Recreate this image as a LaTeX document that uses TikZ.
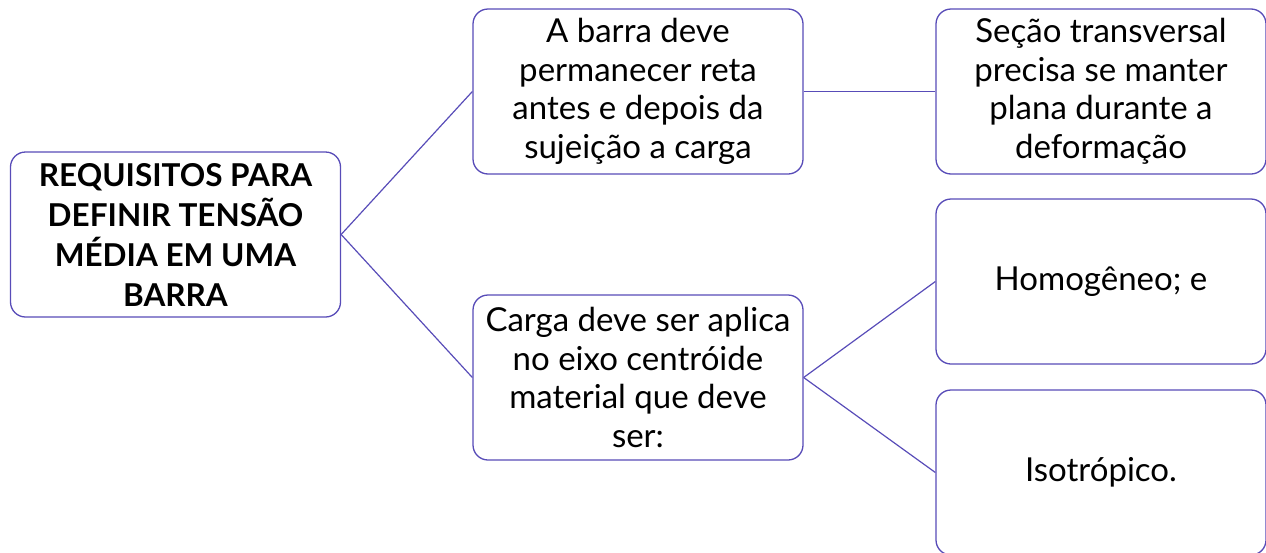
\documentclass[tikz,border=0pt]{standalone}
\usepackage{fontspec}
\setmainfont{Lato}
\definecolor{mapline}{RGB}{88,76,184}
\usetikzlibrary{positioning}

\tikzset{
  box/.style={draw=mapline, line width=1.3pt, rounded corners=15pt, fill=white,
    minimum width=330pt, minimum height=165pt, align=center, inner sep=2pt,
    font=\fontsize{33}{38.5}\selectfont},
  rootbox/.style={box, font=\fontsize{31.5}{40}\selectfont\bfseries},
  link/.style={draw=mapline, line width=1.2pt}
}

\begin{document}
\begin{tikzpicture}[x=1pt, y=-1pt]
  \useasboundingbox (0,0) rectangle (1266,552);

  %% Boxes
  \node[rootbox] (req)   at (175.5,234.5) {REQUISITOS PARA\\DEFINIR TENSÃO\\MÉDIA EM UMA\\BARRA};
  \node[box]     (reta)  at (638,91.5)    {A barra deve\\permanecer reta\\antes e depois da\\sujeição a carga};
  \node[box]     (carga) at (638,377.5)   {Carga deve ser aplica\\no eixo centróide\\material que deve\\ser:};
  \node[box]     (secao) at (1101,91.5)   {Seção transversal\\precisa se manter\\plana durante a\\deformação};
  \node[box]     (homog) at (1101,281.5)  {Homogêneo; e};
  \node[box]     (isot)  at (1101,472.5)  {Isotrópico.};

  %% Links
  \draw[link] (req.east)   -- (reta.west);
  \draw[link] (req.east)   -- (carga.west);
  \draw[link] (reta.east)  -- (secao.west);
  \draw[link] (carga.east) -- (homog.west);
  \draw[link] (carga.east) -- (isot.west);
\end{tikzpicture}
\end{document}
